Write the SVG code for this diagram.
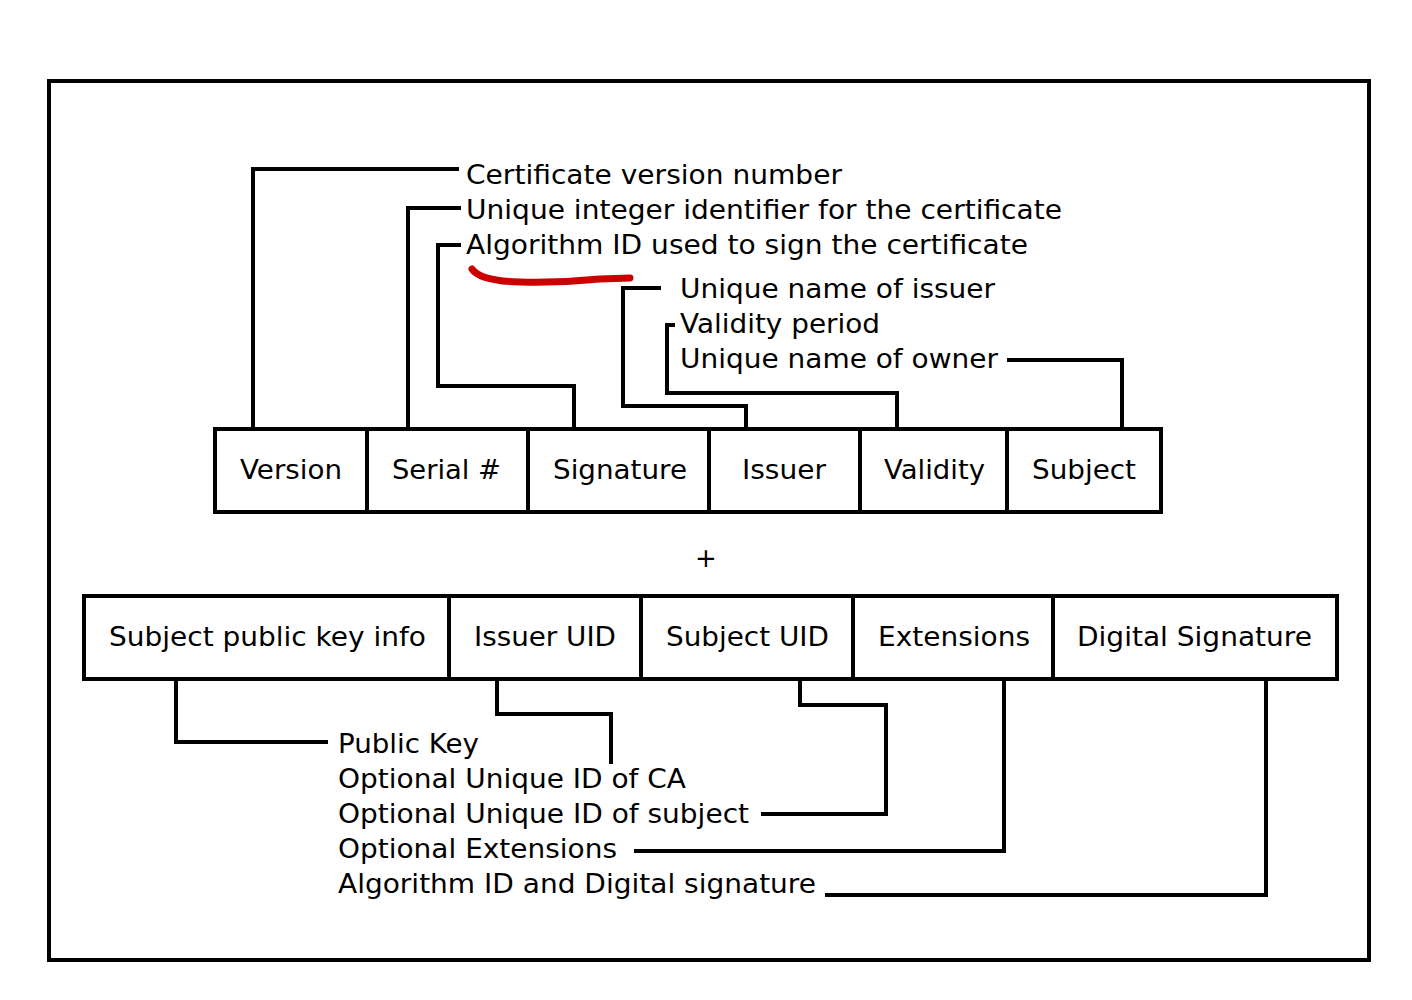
<svg xmlns="http://www.w3.org/2000/svg" width="1412" height="1000" viewBox="0 0 1412 1000">
<style>
.box{fill:#fff;stroke:#000;stroke-width:4}
.t{font-family:"DejaVu Sans",sans-serif;font-size:26px;fill:#000}
.c{text-anchor:middle}
.ln{fill:none;stroke:#000;stroke-width:4}
</style>
<rect width="1412" height="1000" fill="#fff"/>
<rect x="49" y="81" width="1320" height="879" class="box"/>
<g id="connectors">
<path class="ln" d="M253,429 V169 H459"/>
<path class="ln" d="M408,429 V208 H461"/>
<path class="ln" d="M574,429 V386 H438 V245 H461"/>
<path class="ln" d="M746,429 V406 H623 V288 H661"/>
<path class="ln" d="M897,429 V393 H667 V325 H675"/>
<path class="ln" d="M1122,429 V360 H1007"/>
<path class="ln" d="M176,679 V742 H328"/>
<path class="ln" d="M497,679 V714 H611 V764"/>
<path class="ln" d="M800,679 V705 H886 V814 H761"/>
<path class="ln" d="M1004,679 V851 H634"/>
<path class="ln" d="M1266,679 V895 H825"/>
</g>
<path d="M472,269 Q480,281 520,282 Q560,283 600,279 L630,278" fill="none" stroke="#cc0000" stroke-width="7" stroke-linecap="round"/>
<g id="labels-top">
<text class="t" x="466" y="184" textLength="376" lengthAdjust="spacingAndGlyphs">Certificate version number</text>
<text class="t" x="466" y="219" textLength="596" lengthAdjust="spacingAndGlyphs">Unique integer identifier for the certificate</text>
<text class="t" x="466" y="254" textLength="562" lengthAdjust="spacingAndGlyphs">Algorithm ID used to sign the certificate</text>
<text class="t" x="680" y="298" textLength="315" lengthAdjust="spacingAndGlyphs">Unique name of issuer</text>
<text class="t" x="680" y="333" textLength="200" lengthAdjust="spacingAndGlyphs">Validity period</text>
<text class="t" x="680" y="368" textLength="318" lengthAdjust="spacingAndGlyphs">Unique name of owner</text>
</g>
<g id="version"><rect class="box" x="215" y="429" width="152" height="83"/><text class="t" x="240" y="479" textLength="102" lengthAdjust="spacingAndGlyphs">Version</text></g>
<g id="serial"><rect class="box" x="367" y="429" width="161" height="83"/><text class="t" x="392" y="479" textLength="109" lengthAdjust="spacingAndGlyphs">Serial #</text></g>
<g id="signature"><rect class="box" x="528" y="429" width="181" height="83"/><text class="t" x="553" y="479" textLength="134" lengthAdjust="spacingAndGlyphs">Signature</text></g>
<g id="issuer"><rect class="box" x="709" y="429" width="151" height="83"/><text class="t" x="742" y="479" textLength="84" lengthAdjust="spacingAndGlyphs">Issuer</text></g>
<g id="validity"><rect class="box" x="860" y="429" width="147" height="83"/><text class="t" x="884" y="479" textLength="101" lengthAdjust="spacingAndGlyphs">Validity</text></g>
<g id="subject"><rect class="box" x="1007" y="429" width="154" height="83"/><text class="t" x="1032" y="479" textLength="104" lengthAdjust="spacingAndGlyphs">Subject</text></g>
<text class="t c" x="706" y="567">+</text>
<g id="spki"><rect class="box" x="84" y="596" width="365" height="83"/><text class="t" x="109" y="646" textLength="317" lengthAdjust="spacingAndGlyphs">Subject public key info</text></g>
<g id="issueruid"><rect class="box" x="449" y="596" width="192" height="83"/><text class="t" x="474" y="646" textLength="142" lengthAdjust="spacingAndGlyphs">Issuer UID</text></g>
<g id="subjectuid"><rect class="box" x="641" y="596" width="212" height="83"/><text class="t" x="666" y="646" textLength="163" lengthAdjust="spacingAndGlyphs">Subject UID</text></g>
<g id="extensions"><rect class="box" x="853" y="596" width="200" height="83"/><text class="t" x="878" y="646" textLength="152" lengthAdjust="spacingAndGlyphs">Extensions</text></g>
<g id="digsig"><rect class="box" x="1053" y="596" width="284" height="83"/><text class="t" x="1077" y="646" textLength="235" lengthAdjust="spacingAndGlyphs">Digital Signature</text></g>
<g id="labels-bottom">
<text class="t" x="338" y="753" textLength="141" lengthAdjust="spacingAndGlyphs">Public Key</text>
<text class="t" x="338" y="788" textLength="348" lengthAdjust="spacingAndGlyphs">Optional Unique ID of CA</text>
<text class="t" x="338" y="823" textLength="411" lengthAdjust="spacingAndGlyphs">Optional Unique ID of subject</text>
<text class="t" x="338" y="858" textLength="279" lengthAdjust="spacingAndGlyphs">Optional Extensions</text>
<text class="t" x="338" y="893" textLength="478" lengthAdjust="spacingAndGlyphs">Algorithm ID and Digital signature</text>
</g>
</svg>
